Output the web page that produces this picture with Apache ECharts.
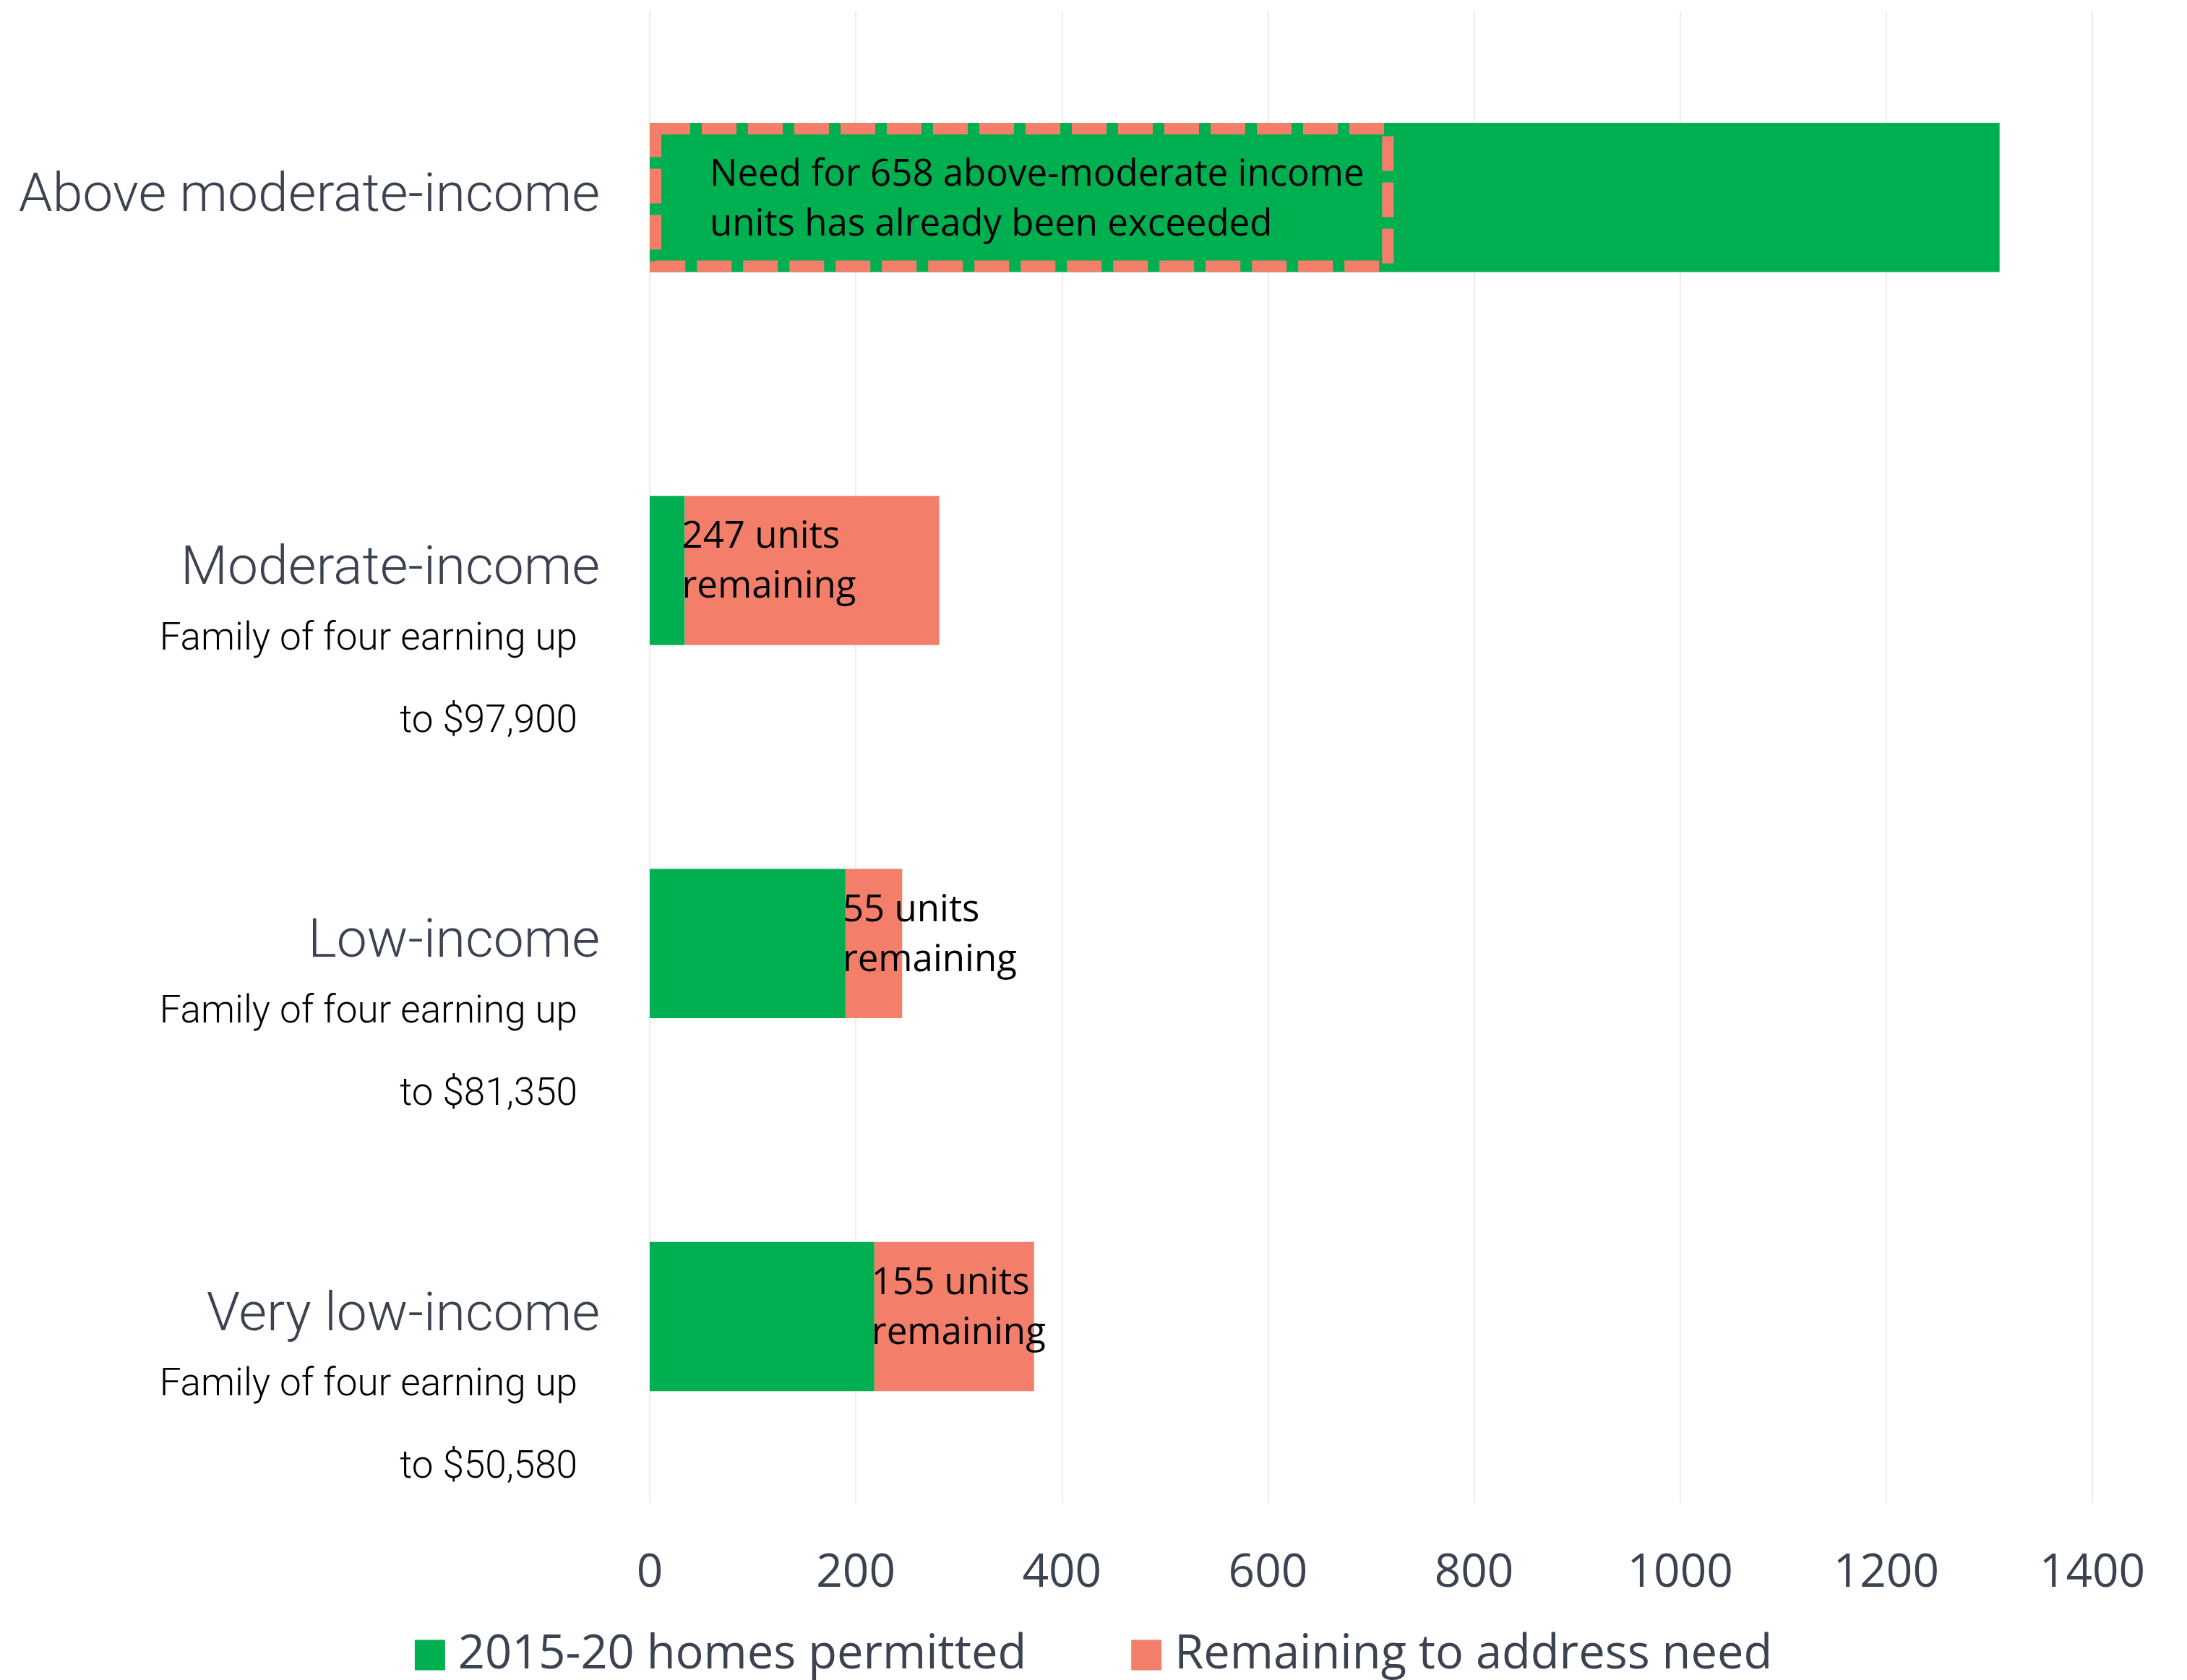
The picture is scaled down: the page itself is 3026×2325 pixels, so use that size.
<!DOCTYPE html>
<html>
<head>
<meta charset="utf-8">
<script src="https://cdn.jsdelivr.net/npm/echarts@6/dist/echarts.min.js"></script>
<style>
  html, body { margin: 0; padding: 0; background: #fff; }
  #chart { width: 3026px; height: 2325px; }
</style>
</head>
<body>
<div id="chart"></div>
<script>
// categories, bottom to top as drawn on the y axis
const categories = ['Very low-income', 'Low-income', 'Moderate-income', 'Above moderate-income'];
const incomeLimits = ['$50,580', '$81,350', '$97,900', null];
const permitted = [218, 190, 34, 1310];
const remaining = [155, 55, 247, 0];
const need = [373, 245, 281, 658];
// extent of the dashed call-out box on the top bar
const calloutExtent = [null, null, null, 722];
const xTicks = { min: 0, max: 1400, interval: 200 };

const GREEN = '#00b050';
const SALMON = '#f37f6b';
const SLATE = '#3b4350';

const chart = echarts.init(document.getElementById('chart'));

const option = {
  animation: false,
  grid: { left: 899, right: 131, top: 15, bottom: 245 },
  legend: {
    data: ['2015-20 homes permitted', 'Remaining to address need'],
    left: 'center',
    bottom: -3,
    itemWidth: 42,
    itemHeight: 42,
    itemGap: 145,
    icon: 'rect',
    textStyle: { fontFamily: 'Open Sans', fontSize: 65, color: SLATE, padding: [0, 0, 0, 13] }
  },
  xAxis: {
    type: 'value',
    min: xTicks.min,
    max: xTicks.max,
    interval: xTicks.interval,
    axisLine: { show: false },
    axisTick: { show: false },
    splitLine: { show: true, lineStyle: { color: '#ececec', width: 2 } },
    axisLabel: {
      margin: 66,
      fontFamily: 'Open Sans',
      fontSize: 64,
      color: SLATE,
      formatter: (v) => String(v)
    }
  },
  yAxis: {
    type: 'category',
    data: categories,
    axisLine: { show: false },
    axisTick: { show: false },
    axisLabel: {
      margin: 69,
      formatter: (val, idx) => {
        const lim = incomeLimits[idx];
        if (!lim) return '{m|' + val + '}';
        return '{e| }\n{m|' + val + '}\n{s|Family of four earning up}\n{s|to ' + lim + '}';
      },
      rich: {
        e: { fontSize: 10, lineHeight: 228 },
        m: { fontFamily: 'Roboto', fontWeight: 300, fontSize: 75, lineHeight: 78, color: SLATE, align: 'right' },
        s: { fontFamily: 'Roboto', fontWeight: 300, fontSize: 53, lineHeight: 114, color: '#000', align: 'right', padding: [0, 31, 0, 0] }
      }
    }
  },
  series: [
    {
      name: '2015-20 homes permitted',
      type: 'bar',
      stack: 'units',
      barWidth: '40%',
      itemStyle: { color: GREEN },
      data: permitted
    },
    {
      name: 'Remaining to address need',
      type: 'bar',
      stack: 'units',
      barWidth: '40%',
      itemStyle: { color: SALMON },
      label: {
        show: true,
        position: 'insideLeft',
        distance: -4,
        offset: [0, -11],
        fontFamily: 'Open Sans',
        fontSize: 51,
        lineHeight: 69,
        color: '#000',
        formatter: (p) => p.value ? p.value + ' units\nremaining' : ''
      },
      data: remaining
    },
    {
      name: 'callout',
      type: 'bar',
      barWidth: '40%',
      barGap: '-100%',
      z: 5,
      itemStyle: {
        color: 'rgba(0,0,0,0)',
        borderColor: SALMON,
        borderWidth: 16,
        borderType: [48, 16]
      },
      label: {
        show: true,
        position: 'insideLeft',
        distance: 83,
        offset: [0, 4],
        fontFamily: 'Open Sans',
        fontSize: 51,
        lineHeight: 69,
        color: '#000',
        formatter: (p) => 'Need for ' + need[p.dataIndex] + ' above-moderate income\nunits has already been exceeded'
      },
      data: calloutExtent
    }
  ]
};

chart.setOption(option);
window.addEventListener('resize', () => chart.resize());
</script>
</body>
</html>
